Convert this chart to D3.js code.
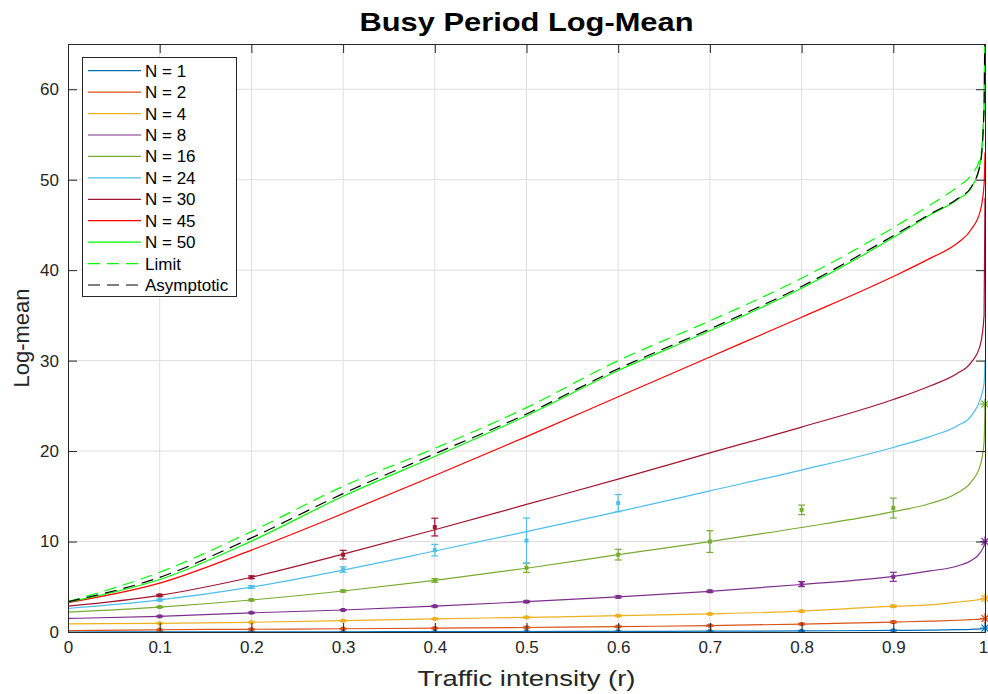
<!DOCTYPE html>
<html>
<head>
<meta charset="utf-8">
<script src="https://cdn.jsdelivr.net/npm/d3@7"></script>
<style>
  body { margin: 0; background: #fff; }
  svg { font-family: "Liberation Sans", Arial, sans-serif; }
</style>
</head>
<body>
<div id="chart"></div>
<script>
// r grid for the analytic curves
const rGrid = [0, 0.1, 0.2, 0.3, 0.4, 0.5, 0.6, 0.7, 0.8, 0.9, 0.94, 0.97, 0.985, 0.995, 0.999, 1];

const curveN1  = [0, 0.01, 0.02, 0.03, 0.04, 0.05, 0.07, 0.09, 0.12, 0.17, 0.21, 0.26, 0.3, 0.35, 0.39, 0.43];
const curveN2  = [0.15, 0.25, 0.3, 0.36, 0.42, 0.5, 0.6, 0.7, 0.88, 1.1, 1.2, 1.3, 1.37, 1.43, 1.47, 1.5];
const curveN4  = [0.9, 0.96, 1.07, 1.25, 1.45, 1.62, 1.8, 2.0, 2.3, 2.85, 3.0, 3.3, 3.46, 3.6, 3.68, 3.72];
const curveN8  = [1.5, 1.73, 2.12, 2.43, 2.85, 3.35, 3.88, 4.5, 5.25, 6.15, 6.75, 7.3, 7.9, 8.8, 9.6, 10.0];
const curveN16 = [2.2, 2.76, 3.54, 4.53, 5.7, 7.05, 8.55, 10.0, 11.55, 13.3, 14.2, 15.4, 16.6, 18.5, 21, 25.2];
const curveN24 = [2.6, 3.55, 4.97, 6.85, 8.95, 11.1, 13.3, 15.6, 17.9, 20.4, 21.6, 22.8, 23.9, 25.8, 27.5, 30];
const curveN30 = [2.85, 4.05, 6.05, 8.6, 11.3, 14.1, 16.9, 19.8, 22.65, 25.7, 27.2, 28.6, 29.8, 31.8, 35, 48];
const curveN45 = [3.25, 5.4, 9.05, 13.1, 17.3, 21.6, 26, 30.4, 34.8, 39.3, 41.3, 43.0, 44.5, 46.6, 49.5, 53];
const curveN50 = [3.3, 5.8, 10.05, 15.0, 19.4, 23.9, 28.9, 33.3, 38.0, 43.6, 46.1, 47.8, 49.1, 52.0, 58, 70];
const limitCurve = [3.35, 6.6, 11.1, 16.1, 20.3, 24.8, 30.0, 34.4, 39.1, 44.7, 47.2, 49.2, 50.5, 52.5, 58, 70];
const asymCurve  = [3.35, 6.04, 10.4, 15.3, 19.7, 24.1, 29.1, 33.5, 38.2, 43.8, 46.2, 47.9, 49.2, 51.8, 58, 70];

// simulation means with confidence half widths
const rSim = [0.1, 0.2, 0.3, 0.4, 0.5, 0.6, 0.7, 0.8, 0.9];
const simN1  = [0.01, 0.02, 0.03, 0.04, 0.05, 0.07, 0.09, 0.12, 0.17];
const errN1  = [0.02, 0.02, 0.02, 0.02, 0.03, 0.03, 0.03, 0.04, 0.05];
const simN2  = [0.25, 0.3, 0.36, 0.42, 0.5, 0.6, 0.7, 0.88, 1.1];
const errN2  = [0.05, 0.05, 0.05, 0.06, 0.06, 0.07, 0.08, 0.08, 0.1];
const simN4  = [0.96, 1.07, 1.25, 1.45, 1.62, 1.8, 2.0, 2.3, 2.85];
const errN4  = [0.05, 0.05, 0.06, 0.06, 0.07, 0.08, 0.08, 0.1, 0.12];
const simN8  = [1.73, 2.13, 2.43, 2.85, 3.35, 3.88, 4.5, 5.3, 6.1];
const errN8  = [0.05, 0.06, 0.07, 0.08, 0.1, 0.12, 0.12, 0.28, 0.5];
const simN16 = [2.76, 3.54, 4.53, 5.7, 7.1, 8.55, 10.0, 13.5, 13.7];
const errN16 = [0.06, 0.08, 0.1, 0.2, 0.5, 0.59, 1.2, 0.53, 1.1];
const simN24 = [3.55, 4.97, 6.9, 9.05, 10.1, 14.25];
const errN24 = [0.1, 0.15, 0.3, 0.64, 2.5, 0.95];
const simN30 = [4.05, 6.05, 8.55, 11.6];
const errN30 = [0.1, 0.15, 0.48, 0.98];

// values at r = 1 (asterisks)
const endN = [1, 2, 4, 8, 16];
const endValues = [0.43, 1.5, 3.72, 10.0, 25.2];

const legendLabels = ["N = 1", "N = 2", "N = 4", "N = 8", "N = 16", "N = 24", "N = 30", "N = 45", "N = 50", "Limit", "Asymptotic"];
const xTicks = [0, 0.1, 0.2, 0.3, 0.4, 0.5, 0.6, 0.7, 0.8, 0.9, 1];
const yTicks = [0, 10, 20, 30, 40, 50, 60];

const colors = ["#0072BD", "#D95319", "#EDB120", "#7E2F8E", "#77AC30", "#4DBEEE", "#A2142F", "#FF0000", "#00FF00"];

const series = [
  { c: curveN1, sim: simN1, err: errN1 },
  { c: curveN2, sim: simN2, err: errN2 },
  { c: curveN4, sim: simN4, err: errN4 },
  { c: curveN8, sim: simN8, err: errN8 },
  { c: curveN16, sim: simN16, err: errN16 },
  { c: curveN24, sim: simN24, err: errN24 },
  { c: curveN30, sim: simN30, err: errN30 },
  { c: curveN45 },
  { c: curveN50 }
];

const width = 988;
const height = 694;
const margin = { top: 44, right: 3, bottom: 62, left: 68 };
const x0 = margin.left, x1 = width - margin.right;
const y0 = height - margin.bottom, y1 = margin.top;

const svg = d3.select('#chart')
  .append('svg')
  .attr('width', width)
  .attr('height', height);

const x = d3.scaleLinear().domain([0, 1]).range([x0, x1]);
const y = d3.scaleLinear().domain([0, 65]).range([y0, y1]);

svg.append("defs").append("clipPath").attr("id", "clip")
  .append("rect")
  .attr("x", x0).attr("y", y1)
  .attr("width", x1 - x0).attr("height", y0 - y1);

// grid
const grid = svg.append("g").attr("stroke", "#dedede").attr("stroke-width", 1);
grid.selectAll(".gx").data(xTicks.slice(1, -1)).join("line")
  .attr("x1", d => x(d)).attr("x2", d => x(d))
  .attr("y1", y0).attr("y2", y1);
grid.selectAll(".gy").data(yTicks.slice(1)).join("line")
  .attr("x1", x0).attr("x2", x1)
  .attr("y1", d => y(d)).attr("y2", d => y(d));

const plot = svg.append("g").attr("clip-path", "url(#clip)");

const line = d3.line()
  .x((d, i) => x(rGrid[i]))
  .y(d => y(d))
  .curve(d3.curveMonotoneX);

series.forEach((s, k) => {
  plot.append("path")
    .datum(s.c)
    .attr("fill", "none")
    .attr("stroke", colors[k])
    .attr("stroke-width", 1.2)
    .attr("d", line);
});

plot.append("path")
  .datum(limitCurve)
  .attr("fill", "none")
  .attr("stroke", "#00FF00")
  .attr("stroke-width", 1.2)
  .attr("stroke-dasharray", "12,7")
  .attr("d", line);

plot.append("path")
  .datum(asymCurve)
  .attr("fill", "none")
  .attr("stroke", "#000")
  .attr("stroke-width", 1.2)
  .attr("stroke-dasharray", "12,7")
  .attr("d", line);

// error bars
series.forEach((s, k) => {
  if (!s.sim) return;
  const g = plot.append("g").attr("stroke", colors[k]).attr("stroke-width", 1.2);
  s.sim.forEach((m, i) => {
    const cx = x(rSim[i]);
    const lo = y(m - s.err[i]), hi = y(m + s.err[i]);
    g.append("line").attr("x1", cx).attr("x2", cx).attr("y1", lo).attr("y2", hi);
    g.append("line").attr("x1", cx - 3.5).attr("x2", cx + 3.5).attr("y1", lo).attr("y2", lo);
    g.append("line").attr("x1", cx - 3.5).attr("x2", cx + 3.5).attr("y1", hi).attr("y2", hi);
    g.append("rect")
      .attr("x", cx - 2).attr("y", y(m) - 2)
      .attr("width", 4).attr("height", 4)
      .attr("fill", colors[k]).attr("stroke", "none");
  });
});

// asterisks at r = 1
endValues.forEach((v, i) => {
  const cx = x(1), cy = y(v), r = 5;
  const g = svg.append("g").attr("stroke", colors[i]).attr("stroke-width", 1.2);
  [0, 45, 90, 135].forEach(a => {
    const t = a * Math.PI / 180;
    g.append("line")
      .attr("x1", cx - r * Math.cos(t)).attr("y1", cy - r * Math.sin(t))
      .attr("x2", cx + r * Math.cos(t)).attr("y2", cy + r * Math.sin(t));
  });
});

// axes (ticks inside, box on)
function styleAxis(g) {
  g.select(".domain").attr("stroke", "#262626");
  g.selectAll(".tick line").attr("stroke", "#262626");
  g.selectAll(".tick text").attr("fill", "#262626").attr("font-size", "17px")
    .attr("font-family", '"Liberation Sans", Arial, sans-serif');
}

const xAxisG = svg.append("g")
  .attr("transform", `translate(0,${y0})`)
  .call(d3.axisBottom(x).tickValues(xTicks).tickSize(-9).tickSizeOuter(0).tickPadding(9)
    .tickFormat(d => d3.format("~g")(d)))
  .call(styleAxis);
// keep the "1" at the right edge inside the window
xAxisG.selectAll(".tick text").filter(d => d === 1).attr("dx", "-2");

svg.append("g")
  .attr("transform", `translate(${x0},0)`)
  .call(d3.axisLeft(y).tickValues(yTicks).tickSize(-9).tickSizeOuter(0).tickPadding(9))
  .call(styleAxis);

svg.append("g")
  .attr("transform", `translate(0,${y1})`)
  .call(d3.axisTop(x).tickValues(xTicks).tickSize(-9).tickSizeOuter(0).tickFormat(""))
  .call(styleAxis);

svg.append("g")
  .attr("transform", `translate(${x1},0)`)
  .call(d3.axisRight(y).tickValues(yTicks).tickSize(-9).tickSizeOuter(0).tickFormat(""))
  .call(styleAxis);

// titles
svg.append("text")
  .attr("x", (x0 + x1) / 2).attr("y", 31)
  .attr("text-anchor", "middle")
  .attr("font-weight", "bold").attr("font-size", "25px")
  .attr("textLength", 334).attr("lengthAdjust", "spacingAndGlyphs")
  .text("Busy Period Log-Mean");

svg.append("text")
  .attr("x", (x0 + x1) / 2).attr("y", 686)
  .attr("text-anchor", "middle")
  .attr("font-size", "22px").attr("fill", "#262626")
  .attr("textLength", 218).attr("lengthAdjust", "spacingAndGlyphs")
  .text("Traffic intensity (r)");

svg.append("text")
  .attr("transform", `translate(29,${(y0 + y1) / 2}) rotate(-90)`)
  .attr("text-anchor", "middle")
  .attr("font-size", "22px").attr("fill", "#262626")
  .text("Log-mean");

// legend
const lg = svg.append("g");
lg.append("rect")
  .attr("x", 82.5).attr("y", 57.5)
  .attr("width", 154).attr("height", 239)
  .attr("fill", "#fff").attr("stroke", "#262626");

const legendColors = colors.concat(["#00FF00", "#000"]);
legendLabels.forEach((label, i) => {
  const ly = 70.7 + i * 21.43;
  lg.append("line")
    .attr("x1", 88).attr("x2", 141)
    .attr("y1", ly).attr("y2", ly)
    .attr("stroke", legendColors[i]).attr("stroke-width", 1.2)
    .attr("stroke-dasharray", i >= 9 ? "12,7" : null);
  lg.append("text")
    .attr("x", 145).attr("y", ly + 6)
    .attr("font-size", "17px").attr("fill", "#000")
    .text(label);
});
</script>
</body>
</html>
